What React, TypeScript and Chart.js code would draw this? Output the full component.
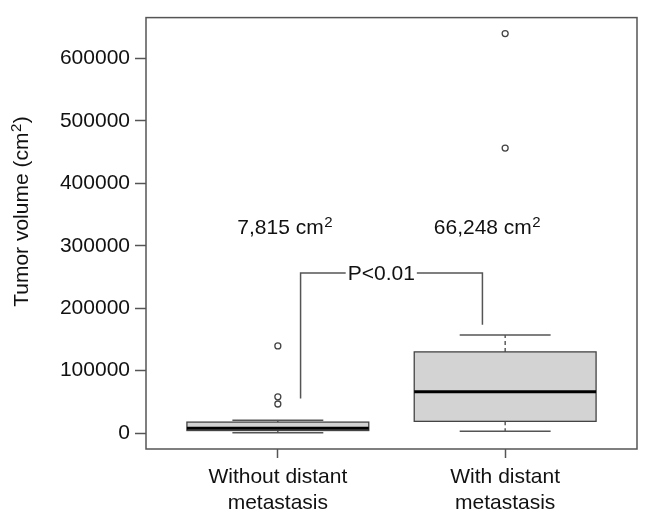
import React, { useEffect, useRef } from 'react';
import { Chart, registerables } from 'chart.js';

Chart.register(...registerables);

// ---- data ----
const categories: string[][] = [
  ['Without distant', 'metastasis'],
  ['With distant', 'metastasis'],
];
const positions = [1, 2];
const lowerWhisker = [500, 2800];
const q1 = [4000, 18700];
const median = [7815, 66248];
const q3 = [17500, 130000];
const upperWhisker = [20500, 157000];
const outlierGroup = [1, 1, 1, 2, 2];
const outlierValues = [139500, 58000, 46500, 456500, 640000];
const yTicks = [0, 100000, 200000, 300000, 400000, 500000, 600000];
const medianLabels = ['7,815 cm', '66,248 cm'];
const medianLabelSup = '2';
const medianLabelX = [1.03, 1.92];
const medianLabelY = 327400;
const pText = 'P<0.01';
const pTextX = 1.455;
const bracketX = [1.1, 1.9];
const bracketTop = 256500;
const bracketBottom = [55200, 173600];
const yTitleMain = 'Tumor volume (cm';
const yTitleSup = '2';
const yTitleEnd = ')';

const FONT = '"Liberation Sans", Arial, Helvetica, sans-serif';
const LINE = '#555';

const boxPlugin = {
  id: 'boxes',
  beforeDatasetsDraw(chart: any) {
    const { ctx, scales } = chart;
    const xs = scales.x;
    const ys = scales.y;
    ctx.save();
    positions.forEach((p, i) => {
      const xl = xs.getPixelForValue(p - 0.4);
      const xr = xs.getPixelForValue(p + 0.4);
      const xc = xs.getPixelForValue(p);
      const sl = xs.getPixelForValue(p - 0.2);
      const sr = xs.getPixelForValue(p + 0.2);
      const yq1 = ys.getPixelForValue(q1[i]);
      const yq3 = ys.getPixelForValue(q3[i]);
      const ymed = ys.getPixelForValue(median[i]);
      const ylo = ys.getPixelForValue(lowerWhisker[i]);
      const yhi = ys.getPixelForValue(upperWhisker[i]);
      // whiskers (dashed)
      ctx.strokeStyle = '#444';
      ctx.lineWidth = 1.3;
      ctx.setLineDash([4, 3]);
      ctx.beginPath();
      ctx.moveTo(xc, yq3);
      ctx.lineTo(xc, yhi);
      ctx.moveTo(xc, yq1);
      ctx.lineTo(xc, ylo);
      ctx.stroke();
      ctx.setLineDash([]);
      // staples
      ctx.lineWidth = 1.5;
      ctx.strokeStyle = '#555';
      ctx.beginPath();
      ctx.moveTo(sl, yhi);
      ctx.lineTo(sr, yhi);
      ctx.moveTo(sl, ylo);
      ctx.lineTo(sr, ylo);
      ctx.stroke();
      // box
      ctx.fillStyle = '#d3d3d3';
      ctx.fillRect(xl, yq3, xr - xl, yq1 - yq3);
      ctx.strokeStyle = '#444';
      ctx.lineWidth = 1.3;
      ctx.strokeRect(xl, yq3, xr - xl, yq1 - yq3);
      // median
      ctx.strokeStyle = '#000';
      ctx.lineWidth = 3;
      ctx.beginPath();
      ctx.moveTo(xl, ymed);
      ctx.lineTo(xr, ymed);
      ctx.stroke();
    });
    ctx.restore();
  },
  afterDraw(chart: any) {
    const { ctx, scales, chartArea } = chart;
    const xs = scales.x;
    const ys = scales.y;
    ctx.save();
    // frame
    ctx.strokeStyle = LINE;
    ctx.lineWidth = 1.5;
    ctx.strokeRect(chartArea.left, chartArea.top, chartArea.right - chartArea.left, chartArea.bottom - chartArea.top);

    // median labels with superscript
    ctx.fillStyle = '#111';
    ctx.textBaseline = 'middle';
    ctx.textAlign = 'left';
    medianLabels.forEach((t, i) => {
      ctx.font = `21px ${FONT}`;
      const w1 = ctx.measureText(t).width;
      ctx.font = `15px ${FONT}`;
      const w2 = ctx.measureText(medianLabelSup).width;
      const cx = xs.getPixelForValue(medianLabelX[i]);
      const cy = ys.getPixelForValue(medianLabelY);
      const x0 = cx - (w1 + w2) / 2;
      ctx.font = `21px ${FONT}`;
      ctx.fillText(t, x0, cy);
      ctx.font = `15px ${FONT}`;
      ctx.fillText(medianLabelSup, x0 + w1 + 0.5, cy - 6);
    });

    // bracket with P text
    ctx.font = `21px ${FONT}`;
    const tw = ctx.measureText(pText).width;
    const px = xs.getPixelForValue(pTextX);
    const yTop = ys.getPixelForValue(bracketTop);
    const bxl = xs.getPixelForValue(bracketX[0]);
    const bxr = xs.getPixelForValue(bracketX[1]);
    ctx.strokeStyle = LINE;
    ctx.lineWidth = 1.5;
    ctx.beginPath();
    ctx.moveTo(bxl, ys.getPixelForValue(bracketBottom[0]));
    ctx.lineTo(bxl, yTop);
    ctx.lineTo(px - tw / 2 - 2, yTop);
    ctx.moveTo(px + tw / 2 + 2, yTop);
    ctx.lineTo(bxr, yTop);
    ctx.lineTo(bxr, ys.getPixelForValue(bracketBottom[1]));
    ctx.stroke();
    ctx.textAlign = 'center';
    ctx.fillText(pText, px, yTop + 1);

    // y title (rotated) with superscript
    ctx.textAlign = 'left';
    ctx.textBaseline = 'alphabetic';
    ctx.font = `21px ${FONT}`;
    const a = ctx.measureText(yTitleMain).width;
    const c = ctx.measureText(yTitleEnd).width;
    ctx.font = `15px ${FONT}`;
    const b = ctx.measureText(yTitleSup).width;
    const total = a + b + c;
    const centerY = 212;
    ctx.translate(28, centerY);
    ctx.rotate(-Math.PI / 2);
    const s = -total / 2;
    ctx.font = `21px ${FONT}`;
    ctx.fillText(yTitleMain, s, 0);
    ctx.font = `15px ${FONT}`;
    ctx.fillText(yTitleSup, s + a + 0.5, -7);
    ctx.font = `21px ${FONT}`;
    ctx.fillText(yTitleEnd, s + a + b + 1, 0);
    ctx.restore();
  },
};

export default function App() {
  const ref = useRef<HTMLCanvasElement | null>(null);
  useEffect(() => {
    if (!ref.current) return;
    const chart = new Chart(ref.current, {
      type: 'scatter',
      data: {
        datasets: [
          {
            data: outlierGroup.map((g, i) => ({ x: g, y: outlierValues[i] })),
            pointRadius: 3,
            pointHoverRadius: 3,
            pointStyle: 'circle',
            backgroundColor: 'rgba(0,0,0,0)',
            borderColor: '#444',
            borderWidth: 1.3,
          },
        ],
      },
      options: {
        responsive: false,
        animation: false,
        events: [],
        layout: { padding: { left: 0, top: 12, right: 9, bottom: 0 } },
        plugins: { legend: { display: false }, tooltip: { enabled: false } },
        scales: {
          x: {
            type: 'linear',
            min: 0.42,
            max: 2.58,
            afterBuildTicks: (scale: any) => {
              scale.ticks = positions.map((v) => ({ value: v }));
            },
            afterFit: (scale: any) => {
              scale.height = 71;
            },
            ticks: {
              autoSkip: false,
              maxRotation: 0,
              minRotation: 0,
              padding: 7,
              color: '#111',
              font: { family: FONT, size: 21, lineHeight: 1.2 },
              callback: (v: any) => {
                const idx = positions.indexOf(Number(v));
                return idx >= 0 ? categories[idx] : '';
              },
            },
            grid: { drawOnChartArea: false, drawTicks: true, tickLength: 9, tickColor: LINE, tickWidth: 1.5 },
            border: { display: false },
          },
          y: {
            type: 'linear',
            min: -25600,
            max: 665600,
            afterBuildTicks: (scale: any) => {
              scale.ticks = yTicks.map((v) => ({ value: v }));
            },
            afterFit: (scale: any) => {
              scale.width = 146;
            },
            ticks: {
              autoSkip: false,
              padding: 5,
              color: '#111',
              font: { family: FONT, size: 21 },
              callback: (v: any) => String(v),
            },
            grid: { drawOnChartArea: false, drawTicks: true, tickLength: 11, tickColor: LINE, tickWidth: 1.5 },
            border: { display: false },
          },
        },
      },
      plugins: [boxPlugin],
    });
    return () => chart.destroy();
  }, []);
  return (
    <div style={{ position: 'absolute', left: 0, top: 0, width: 646, height: 520, background: '#fff' }}>
      <canvas ref={ref} width={646} height={520} style={{ display: 'block' }} />
    </div>
  );
}
